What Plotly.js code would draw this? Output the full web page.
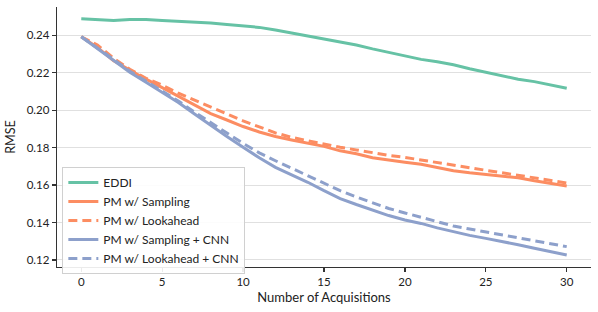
<!DOCTYPE html>
<html>
<head>
<meta charset="utf-8">
<script src="https://cdn.plot.ly/plotly-3.0.1.min.js"></script>
<style>html,body{margin:0;padding:0;background:#fff;}#chart{width:598px;height:312px;}</style>
</head>
<body>
<div id="chart"></div>
<script>
const acquisitions = [0,1,2,3,4,5,6,7,8,9,10,11,12,13,14,15,16,17,18,19,20,21,22,23,24,25,26,27,28,29,30];
const eddi = [0.2489,0.2485,0.2480,0.2485,0.2485,0.2480,0.2476,0.2472,0.2466,0.2459,0.2452,0.2443,0.2429,0.2413,0.2395,0.2379,0.2365,0.2349,0.2328,0.2310,0.2291,0.2272,0.2259,0.2243,0.2222,0.2203,0.2185,0.2166,0.2153,0.2137,0.2118];
const pmSampling = [0.2393,0.2336,0.2264,0.2214,0.2166,0.2121,0.2076,0.2028,0.1982,0.1948,0.1913,0.1884,0.1860,0.1841,0.1826,0.1807,0.1783,0.1767,0.1746,0.1732,0.1722,0.1711,0.1693,0.1677,0.1666,0.1658,0.1650,0.1639,0.1623,0.1607,0.1595];
const pmLookahead = [0.2393,0.2349,0.2278,0.2219,0.2171,0.2134,0.2091,0.2054,0.2014,0.1977,0.1943,0.1911,0.1879,0.1855,0.1836,0.1820,0.1802,0.1788,0.1772,0.1759,0.1748,0.1735,0.1719,0.1706,0.1693,0.1679,0.1666,0.1653,0.1639,0.1626,0.1611];
const pmSamplingCnn = [0.2393,0.2331,0.2267,0.2203,0.2150,0.2097,0.2041,0.1980,0.1918,0.1860,0.1802,0.1746,0.1695,0.1655,0.1615,0.1570,0.1528,0.1496,0.1465,0.1437,0.1413,0.1395,0.1371,0.1350,0.1331,0.1315,0.1299,0.1281,0.1262,0.1243,0.1226];
const pmLookaheadCnn = [0.2393,0.2334,0.2272,0.2209,0.2155,0.2102,0.2049,0.1990,0.1932,0.1878,0.1823,0.1772,0.1730,0.1690,0.1650,0.1607,0.1570,0.1536,0.1504,0.1475,0.1451,0.1427,0.1403,0.1381,0.1365,0.1349,0.1333,0.1317,0.1302,0.1286,0.1271];
const seriesNames = ["EDDI","PM w/ Sampling","PM w/ Lookahead","PM w/ Sampling + CNN","PM w/ Lookahead + CNN"];
const xTicks = [0,5,10,15,20,25,30];
const yTicks = [0.12,0.14,0.16,0.18,0.20,0.22,0.24];
const yTickText = ["0.12","0.14","0.16","0.18","0.20","0.22","0.24"];

const green = "#66c2a5", orange = "#fc8d62", blue = "#8da0cb";
const W = 3;
function tr(y, name, color, dash){
  return {x: acquisitions, y: y, name: name, type: "scatter", mode: "lines",
    line: {color: color, width: W, dash: dash || "solid"}};
}
const data = [
  tr(eddi, seriesNames[0], green),
  tr(pmSampling, seriesNames[1], orange),
  tr(pmLookahead, seriesNames[2], orange, "9px,5px"),
  tr(pmSamplingCnn, seriesNames[3], blue),
  tr(pmLookaheadCnn, seriesNames[4], blue, "9px,5px")
];
const fam = "Lato, 'DejaVu Sans', sans-serif";
const layout = {
  width: 598, height: 312,
  margin: {l: 57, r: 7, t: 7, b: 45},
  paper_bgcolor: "#fff", plot_bgcolor: "#fff",
  font: {family: fam, size: 12, color: "#222"},
  showlegend: true,
  legend: {x: 0.01, y: 0.385, xanchor: "left", yanchor: "top",
    bgcolor: "rgba(255,255,255,0.9)", bordercolor: "#d0d0d0", borderwidth: 1,
    font: {family: fam, size: 12, color: "#222"}, tracegroupgap: 0},
  xaxis: {range: [-1.5, 31.5], tickvals: xTicks, showgrid: false, zeroline: false,
    showline: true, linecolor: "#333", linewidth: 1.25, ticks: "outside", ticklen: 4,
    tickcolor: "#333", tickwidth: 1.25, tickfont: {size: 11.5},
    title: {text: "Number of Acquisitions", font: {size: 13}, standoff: 5}},
  yaxis: {range: [0.1162, 0.2552], tickvals: yTicks, ticktext: yTickText,
    showgrid: true, gridcolor: "#e0e0e0", gridwidth: 1, zeroline: false,
    showline: true, linecolor: "#333", linewidth: 1.25, ticks: "outside", ticklen: 4,
    tickcolor: "#333", tickwidth: 1.25, tickfont: {size: 11.5},
    title: {text: "RMSE", font: {size: 12.5}, standoff: 8}}
};
Plotly.newPlot("chart", data, layout, {displayModeBar: false, staticPlot: true});
</script>
</body>
</html>
